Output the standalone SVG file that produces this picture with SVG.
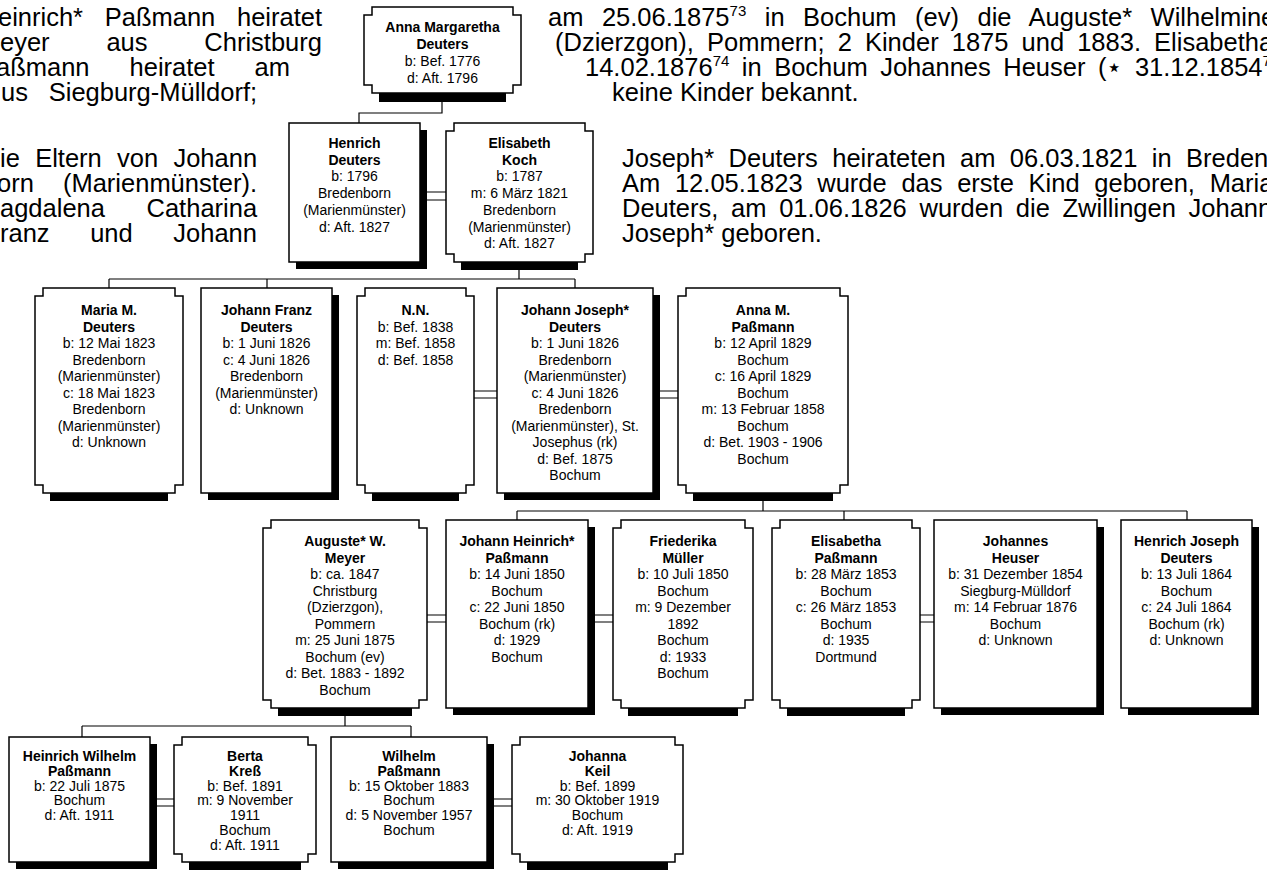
<svg xmlns="http://www.w3.org/2000/svg" width="1267" height="877" viewBox="0 0 1267 877">
<style>
.bg{fill:#fff}
.box{fill:#fff;stroke:#000;stroke-width:1.5}
.sh{fill:#000}
.ln{fill:none;stroke:#000;stroke-width:1.2}
.t{font-family:"Liberation Sans",Arial,sans-serif;font-size:14px;fill:#000;text-anchor:middle}
.b{font-weight:bold}
.p{font-family:"Liberation Sans",Arial,sans-serif;font-size:25.5px;fill:#000}
.sup{font-size:15px}
</style>
<rect class="bg" x="0" y="0" width="1267" height="877"/>

<g id="body-text">
<text class="p" x="-2" y="26" word-spacing="14.6">einrich* Paßmann heiratet</text>
<text class="p" x="0" y="51" word-spacing="49.7">eyer aus Christburg</text>
<text class="p" x="-4" y="76" word-spacing="32.9">aßmann heiratet am</text>
<text class="p" x="1" y="101" word-spacing="13.7">us Siegburg-Mülldorf;</text>
<text class="p" x="0" y="167" word-spacing="8.2">ie Eltern von Johann</text>
<text class="p" x="-3" y="192" word-spacing="22">orn (Marienmünster).</text>
<text class="p" x="0" y="217" word-spacing="34.5">agdalena Catharina</text>
<text class="p" x="0" y="242" word-spacing="33.5">ranz und Johann</text>

<text class="p" x="548" y="26" word-spacing="11.4">am 25.06.1875<tspan class="sup" dy="-10">73</tspan><tspan dy="10"> in Bochum (ev) die Auguste* Wilhelmine</tspan></text>
<text class="p" x="555" y="51" word-spacing="6">(Dzierzgon), Pommern; 2 Kinder 1875 und 1883. Elisabetha</text>
<text class="p" x="585" y="76" word-spacing="5.4">14.02.1876<tspan class="sup" dy="-10">74</tspan><tspan dy="10"> in Bochum Johannes Heuser (⋆ 31.12.1854</tspan><tspan class="sup" dy="-10">75</tspan></text>
<text class="p" x="612" y="101">keine Kinder bekannt.</text>
<text class="p" x="622" y="167" word-spacing="7.3">Joseph* Deuters heirateten am 06.03.1821 in Breden</text>
<text class="p" x="622" y="192" word-spacing="7.6">Am 12.05.1823 wurde das erste Kind geboren, Maria</text>
<text class="p" x="622" y="217" word-spacing="5.6">Deuters, am 01.06.1826 wurden die Zwillingen Johann</text>
<text class="p" x="622" y="242">Joseph* geboren.</text>
</g>

<g id="connectors">
<path class="ln" d="M442,101 V113 H359 V123"/>
<path class="ln" d="M427,192 H446 M427,200 H446"/>
<path class="ln" d="M519,270 V279 M109,279 H575 M109,279 V288 M267,279 V288 M575,279 V288"/>
<path class="ln" d="M474,391 H497 M474,398 H497"/>
<path class="ln" d="M660,391 H678 M660,398 H678"/>
<path class="ln" d="M763,501 V511 M517,511 H1187 M517,511 V520 M844,511 V520 M1187,511 V520"/>
<path class="ln" d="M427,615 H446 M427,622 H446"/>
<path class="ln" d="M595,615 H613 M595,622 H613"/>
<path class="ln" d="M920,615 H934 M920,622 H934"/>
<path class="ln" d="M345,716 V726 M82,726 H411 M82,726 V737 M411,726 V737"/>
<path class="ln" d="M157,799 H174 M157,806 H174"/>
<path class="ln" d="M494,799 H512 M494,806 H512"/>
</g>

<g id="anna-margaretha-deuters">
<rect class="sh" x="379" y="93" width="127" height="9"/>
<path class="box" d="M372,7 H513 V15 H521 V85 H513 V93 H372 V85 H364 V15 H372 Z"/>
<text class="t" x="442.5" y="32"><tspan class="b" x="442.5">Anna Margaretha</tspan><tspan class="b" x="442.5" dy="17">Deuters</tspan><tspan x="442.5" dy="17">b: Bef. 1776</tspan><tspan x="442.5" dy="17">d: Aft. 1796</tspan></text>
</g>

<g id="henrich-deuters">
<rect class="sh" x="296" y="130" width="131" height="139"/>
<rect class="box" x="289" y="123" width="131" height="139"/>
<text class="t" x="354.5" y="148"><tspan class="b" x="354.5">Henrich</tspan><tspan class="b" x="354.5" dy="16.7">Deuters</tspan><tspan x="354.5" dy="16.7">b: 1796</tspan><tspan x="354.5" dy="16.7">Bredenborn</tspan><tspan x="354.5" dy="16.7">(Marienmünster)</tspan><tspan x="354.5" dy="16.7">d: Aft. 1827</tspan></text>
</g>

<g id="elisabeth-koch">
<rect class="sh" x="461" y="262" width="117" height="8"/>
<path class="box" d="M454,123 H585 V131 H593 V254 H585 V262 H454 V254 H446 V131 H454 Z"/>
<text class="t" x="519.5" y="148"><tspan class="b" x="519.5">Elisabeth</tspan><tspan class="b" x="519.5" dy="16.7">Koch</tspan><tspan x="519.5" dy="16.7">b: 1787</tspan><tspan x="519.5" dy="16.7">m: 6 März 1821</tspan><tspan x="519.5" dy="16.7">Bredenborn</tspan><tspan x="519.5" dy="16.7">(Marienmünster)</tspan><tspan x="519.5" dy="16.7">d: Aft. 1827</tspan></text>
</g>

<g id="maria-m-deuters">
<rect class="sh" x="50" y="493" width="118" height="8"/>
<path class="box" d="M43,288 H175 V296 H183 V485 H175 V493 H43 V485 H35 V296 H43 Z"/>
<text class="t" x="109" y="315"><tspan class="b" x="109">Maria M.</tspan><tspan class="b" x="109" dy="16.5">Deuters</tspan><tspan x="109" dy="16.5">b: 12 Mai 1823</tspan><tspan x="109" dy="16.5">Bredenborn</tspan><tspan x="109" dy="16.5">(Marienmünster)</tspan><tspan x="109" dy="16.5">c: 18 Mai 1823</tspan><tspan x="109" dy="16.5">Bredenborn</tspan><tspan x="109" dy="16.5">(Marienmünster)</tspan><tspan x="109" dy="16.5">d: Unknown</tspan></text>
</g>

<g id="johann-franz-deuters">
<rect class="sh" x="208" y="295" width="131" height="205"/>
<rect class="box" x="201" y="288" width="131" height="205"/>
<text class="t" x="266.5" y="315"><tspan class="b" x="266.5">Johann Franz</tspan><tspan class="b" x="266.5" dy="16.5">Deuters</tspan><tspan x="266.5" dy="16.5">b: 1 Juni 1826</tspan><tspan x="266.5" dy="16.5">c: 4 Juni 1826</tspan><tspan x="266.5" dy="16.5">Bredenborn</tspan><tspan x="266.5" dy="16.5">(Marienmünster)</tspan><tspan x="266.5" dy="16.5">d: Unknown</tspan></text>
</g>

<g id="nn">
<rect class="sh" x="372" y="493" width="87" height="8"/>
<path class="box" d="M365,288 H466 V296 H474 V485 H466 V493 H365 V485 H357 V296 H365 Z"/>
<text class="t" x="415.5" y="315"><tspan class="b" x="415.5">N.N.</tspan><tspan x="415.5" dy="16.5">b: Bef. 1838</tspan><tspan x="415.5" dy="16.5">m: Bef. 1858</tspan><tspan x="415.5" dy="16.5">d: Bef. 1858</tspan></text>
</g>

<g id="johann-joseph-deuters">
<rect class="sh" x="504" y="295" width="156" height="205"/>
<rect class="box" x="497" y="288" width="156" height="205"/>
<text class="t" x="575" y="315"><tspan class="b" x="575">Johann Joseph*</tspan><tspan class="b" x="575" dy="16.5">Deuters</tspan><tspan x="575" dy="16.5">b: 1 Juni 1826</tspan><tspan x="575" dy="16.5">Bredenborn</tspan><tspan x="575" dy="16.5">(Marienmünster)</tspan><tspan x="575" dy="16.5">c: 4 Juni 1826</tspan><tspan x="575" dy="16.5">Bredenborn</tspan><tspan x="575" dy="16.5">(Marienmünster), St.</tspan><tspan x="575" dy="16.5">Josephus (rk)</tspan><tspan x="575" dy="16.5">d: Bef. 1875</tspan><tspan x="575" dy="16.5">Bochum</tspan></text>
</g>

<g id="anna-m-passmann">
<rect class="sh" x="693" y="493" width="140" height="8"/>
<path class="box" d="M686,288 H840 V296 H848 V485 H840 V493 H686 V485 H678 V296 H686 Z"/>
<text class="t" x="763" y="315"><tspan class="b" x="763">Anna M.</tspan><tspan class="b" x="763" dy="16.5">Paßmann</tspan><tspan x="763" dy="16.5">b: 12 April 1829</tspan><tspan x="763" dy="16.5">Bochum</tspan><tspan x="763" dy="16.5">c: 16 April 1829</tspan><tspan x="763" dy="16.5">Bochum</tspan><tspan x="763" dy="16.5">m: 13 Februar 1858</tspan><tspan x="763" dy="16.5">Bochum</tspan><tspan x="763" dy="16.5">d: Bet. 1903 - 1906</tspan><tspan x="763" dy="16.5">Bochum</tspan></text>
</g>

<g id="auguste-w-meyer">
<rect class="sh" x="278" y="708" width="134" height="8"/>
<path class="box" d="M271,520 H419 V528 H427 V700 H419 V708 H271 V700 H263 V528 H271 Z"/>
<text class="t" x="345" y="546"><tspan class="b" x="345">Auguste* W.</tspan><tspan class="b" x="345" dy="16.5">Meyer</tspan><tspan x="345" dy="16.5">b: ca. 1847</tspan><tspan x="345" dy="16.5">Christburg</tspan><tspan x="345" dy="16.5">(Dzierzgon),</tspan><tspan x="345" dy="16.5">Pommern</tspan><tspan x="345" dy="16.5">m: 25 Juni 1875</tspan><tspan x="345" dy="16.5">Bochum (ev)</tspan><tspan x="345" dy="16.5">d: Bet. 1883 - 1892</tspan><tspan x="345" dy="16.5">Bochum</tspan></text>
</g>

<g id="johann-heinrich-passmann">
<rect class="sh" x="453" y="527" width="142" height="188"/>
<rect class="box" x="446" y="520" width="142" height="188"/>
<text class="t" x="517" y="546"><tspan class="b" x="517">Johann Heinrich*</tspan><tspan class="b" x="517" dy="16.5">Paßmann</tspan><tspan x="517" dy="16.5">b: 14 Juni 1850</tspan><tspan x="517" dy="16.5">Bochum</tspan><tspan x="517" dy="16.5">c: 22 Juni 1850</tspan><tspan x="517" dy="16.5">Bochum (rk)</tspan><tspan x="517" dy="16.5">d: 1929</tspan><tspan x="517" dy="16.5">Bochum</tspan></text>
</g>

<g id="friederika-mueller">
<rect class="sh" x="628" y="708" width="110" height="8"/>
<path class="box" d="M621,520 H745 V528 H753 V700 H745 V708 H621 V700 H613 V528 H621 Z"/>
<text class="t" x="683" y="546"><tspan class="b" x="683">Friederika</tspan><tspan class="b" x="683" dy="16.5">Müller</tspan><tspan x="683" dy="16.5">b: 10 Juli 1850</tspan><tspan x="683" dy="16.5">Bochum</tspan><tspan x="683" dy="16.5">m: 9 Dezember</tspan><tspan x="683" dy="16.5">1892</tspan><tspan x="683" dy="16.5">Bochum</tspan><tspan x="683" dy="16.5">d: 1933</tspan><tspan x="683" dy="16.5">Bochum</tspan></text>
</g>

<g id="elisabetha-passmann">
<rect class="sh" x="787" y="708" width="118" height="8"/>
<path class="box" d="M780,520 H912 V528 H920 V700 H912 V708 H780 V700 H772 V528 H780 Z"/>
<text class="t" x="846" y="546"><tspan class="b" x="846">Elisabetha</tspan><tspan class="b" x="846" dy="16.5">Paßmann</tspan><tspan x="846" dy="16.5">b: 28 März 1853</tspan><tspan x="846" dy="16.5">Bochum</tspan><tspan x="846" dy="16.5">c: 26 März 1853</tspan><tspan x="846" dy="16.5">Bochum</tspan><tspan x="846" dy="16.5">d: 1935</tspan><tspan x="846" dy="16.5">Dortmund</tspan></text>
</g>

<g id="johannes-heuser">
<rect class="sh" x="941" y="527" width="163" height="188"/>
<rect class="box" x="934" y="520" width="163" height="188"/>
<text class="t" x="1015.5" y="546"><tspan class="b" x="1015.5">Johannes</tspan><tspan class="b" x="1015.5" dy="16.5">Heuser</tspan><tspan x="1015.5" dy="16.5">b: 31 Dezember 1854</tspan><tspan x="1015.5" dy="16.5">Siegburg-Mülldorf</tspan><tspan x="1015.5" dy="16.5">m: 14 Februar 1876</tspan><tspan x="1015.5" dy="16.5">Bochum</tspan><tspan x="1015.5" dy="16.5">d: Unknown</tspan></text>
</g>

<g id="henrich-joseph-deuters">
<rect class="sh" x="1128" y="527" width="131" height="188"/>
<rect class="box" x="1121" y="520" width="131" height="188"/>
<text class="t" x="1186.5" y="546"><tspan class="b" x="1186.5">Henrich Joseph</tspan><tspan class="b" x="1186.5" dy="16.5">Deuters</tspan><tspan x="1186.5" dy="16.5">b: 13 Juli 1864</tspan><tspan x="1186.5" dy="16.5">Bochum</tspan><tspan x="1186.5" dy="16.5">c: 24 Juli 1864</tspan><tspan x="1186.5" dy="16.5">Bochum (rk)</tspan><tspan x="1186.5" dy="16.5">d: Unknown</tspan></text>
</g>

<g id="heinrich-wilhelm-passmann">
<rect class="sh" x="16" y="744" width="141" height="125"/>
<rect class="box" x="9" y="737" width="141" height="125"/>
<text class="t" x="79.5" y="761"><tspan class="b" x="79.5">Heinrich Wilhelm</tspan><tspan class="b" x="79.5" dy="14.8">Paßmann</tspan><tspan x="79.5" dy="14.8">b: 22 Juli 1875</tspan><tspan x="79.5" dy="14.8">Bochum</tspan><tspan x="79.5" dy="14.8">d: Aft. 1911</tspan></text>
</g>

<g id="berta-kress">
<rect class="sh" x="189" y="862" width="112" height="8"/>
<path class="box" d="M182,737 H308 V745 H316 V854 H308 V862 H182 V854 H174 V745 H182 Z"/>
<text class="t" x="245" y="761"><tspan class="b" x="245">Berta</tspan><tspan class="b" x="245" dy="14.8">Kreß</tspan><tspan x="245" dy="14.8">b: Bef. 1891</tspan><tspan x="245" dy="14.8">m: 9 November</tspan><tspan x="245" dy="14.8">1911</tspan><tspan x="245" dy="14.8">Bochum</tspan><tspan x="245" dy="14.8">d: Aft. 1911</tspan></text>
</g>

<g id="wilhelm-passmann">
<rect class="sh" x="338" y="744" width="156" height="125"/>
<rect class="box" x="331" y="737" width="156" height="125"/>
<text class="t" x="409" y="761"><tspan class="b" x="409">Wilhelm</tspan><tspan class="b" x="409" dy="14.8">Paßmann</tspan><tspan x="409" dy="14.8">b: 15 Oktober 1883</tspan><tspan x="409" dy="14.8">Bochum</tspan><tspan x="409" dy="14.8">d: 5 November 1957</tspan><tspan x="409" dy="14.8">Bochum</tspan></text>
</g>

<g id="johanna-keil">
<rect class="sh" x="527" y="862" width="141" height="8"/>
<path class="box" d="M520,737 H675 V745 H683 V854 H675 V862 H520 V854 H512 V745 H520 Z"/>
<text class="t" x="597.5" y="761"><tspan class="b" x="597.5">Johanna</tspan><tspan class="b" x="597.5" dy="14.8">Keil</tspan><tspan x="597.5" dy="14.8">b: Bef. 1899</tspan><tspan x="597.5" dy="14.8">m: 30 Oktober 1919</tspan><tspan x="597.5" dy="14.8">Bochum</tspan><tspan x="597.5" dy="14.8">d: Aft. 1919</tspan></text>
</g>
</svg>
